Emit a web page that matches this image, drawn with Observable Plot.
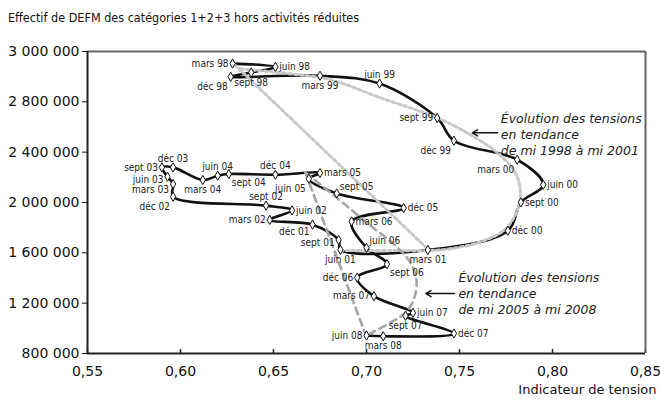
<!DOCTYPE html>
<html><head><meta charset="utf-8">
<script src="https://cdn.jsdelivr.net/npm/d3@7"></script>
<script src="https://cdn.jsdelivr.net/npm/@observablehq/plot@0.6"></script>
<style>
body{margin:0;background:#fff;font-family:"DejaVu Sans Condensed","DejaVu Sans",sans-serif;}
#title{height:30px;box-sizing:border-box;padding-top:11px;padding-left:8px;font-size:12.5px;line-height:14px;color:#111;}
#chart svg{display:block;}
</style></head><body>
<div id="title">Effectif de DEFM des catégories 1+2+3 hors activités réduites</div>
<div id="chart"></div>
<script>
const periods = ["mars 98","juin 98","sept 98","déc 98","mars 99","juin 99","sept 99","déc 99","mars 00","juin 00","sept 00","déc 00","mars 01","juin 01","sept 01","déc 01","mars 02","juin 02","sept 02","déc 02","mars 03","juin 03","sept 03","déc 03","mars 04","juin 04","sept 04","déc 04","mars 05","juin 05","sept 05","déc 05","mars 06","juin 06","sept 06","déc 06","mars 07","juin 07","sept 07","déc 07","mars 08","juin 08"];
const tension = [0.628,0.651,0.638,0.627,0.675,0.707,0.738,0.747,0.781,0.795,0.783,0.776,0.733,0.686,0.685,0.671,0.648,0.660,0.646,0.596,0.596,0.593,0.590,0.596,0.612,0.620,0.626,0.651,0.675,0.669,0.684,0.720,0.692,0.700,0.711,0.695,0.704,0.725,0.721,0.747,0.709,0.700];
const effectif = [3104000,3078000,3033000,2999000,3007000,2945000,2671000,2491000,2340000,2141000,2001000,1776000,1623000,1624000,1702000,1824000,1862000,1937000,1975000,2046000,2147000,2205000,2279000,2279000,2179000,2213000,2226000,2221000,2234000,2189000,2072000,1956000,1850000,1640000,1510000,1403000,1256000,1123000,1099000,959000,937000,943000];
// label placement around each point (layout only)
const labelPos = ["l","r","b","bl","b","t","l","bl","bl","r","r","r","b","b","lm","bh","l","r","t","bl","lb","lm","l","t","b","t","br","t","r","bl","tr","r","r","tr","br","l","l","r","b","r","b","l"];

// trend 1998-2001 (dotted) : chord and arc
const trend98Chord_x = [0.6286,0.7333];
const trend98Chord_y = [3102000,1625000];
const trend98Arc_x = [0.6323,0.6592,0.6807,0.7075,0.7381,0.7559,0.7704,0.7800,0.7827,0.7806,0.7736,0.7601,0.7451,0.7333,0.7129,0.6860];
const trend98Arc_y = [3062000,3022000,2975000,2832000,2673000,2538000,2395000,2237000,2078000,1919000,1776000,1681000,1633000,1618000,1618000,1618000];
// trend 2005-2008 (dashed) : chord and arc
const trend05Chord_x = [0.6672,0.6995];
const trend05Chord_y = [2237000,950000];
const trend05Arc_x = [0.6672,0.6860,0.7021,0.7156,0.7236,0.7269,0.7252,0.7209,0.7129,0.7021];
const trend05Arc_y = [2237000,2014000,1816000,1657000,1522000,1379000,1221000,1125000,1046000,959000];

const xTicks = [0.55,0.60,0.65,0.70,0.75,0.80,0.85];
const yTicks = [800000,1200000,1600000,2000000,2400000,2800000,3200000];
const yTickLabels = ["800 000","1 200 000","1 600 000","2 000 000","2 400 000","2 800 000","3 000 000"];

const annotTexts = ["Évolution des tensions\nen tendance\nde mi 1998 à mi 2001","Évolution des tensions\nen tendance\nde mi 2005 à mi 2008"];
const annotX = [0.7722,0.7494];
const annotY = [2546000,1284000];
const arrowX1 = [0.7704,0.7472], arrowX2 = [0.7569,0.7319], arrowY = [2554000,1276000];

const pts = periods.map((p,i)=>({p, x:tension[i], y:effectif[i], pos:labelPos[i]}));
const zip = (xs,ys)=>xs.map((x,i)=>({x, y:ys[i]}));
const annots = annotTexts.map((t,i)=>({t, x:annotX[i], y:annotY[i]}));
const arrows = arrowX1.map((x1,i)=>({x1, x2:arrowX2[i], y:arrowY[i]}));

const offs = {
  l:{dx:-4,dy:0,a:"end"}, lm:{dx:-4,dy:3,a:"end"}, lb:{dx:-4,dy:6,a:"end"}, r:{dx:4,dy:0,a:"start"},
  t:{dx:0,dy:-9,a:"middle"}, b:{dx:0,dy:10,a:"middle"},
  bl:{dx:-3,dy:10,a:"end"}, bh:{dx:-3,dy:7,a:"end"}, br:{dx:3,dy:9,a:"start"}, tr:{dx:3,dy:-7,a:"start"}
};
const labelMarks = Object.entries(offs).map(([k,o])=>Plot.text(pts.filter(d=>d.pos===k),{
  x:"x", y:"y", text:"p", dx:o.dx, dy:o.dy, textAnchor:o.a, fontSize:10, fill:"#222"
}));

const fmtX = d=>d.toFixed(2).replace(".",",");
const wide = '"DejaVu Sans",sans-serif';

const chart = Plot.plot({
  width:660, height:373,
  marginLeft:87, marginRight:15, marginTop:21, marginBottom:50,
  style:{fontFamily:'"DejaVu Sans Condensed","DejaVu Sans",sans-serif', fontSize:"13px", color:"#111", background:"#fff"},
  x:{domain:[0.55,0.85]},
  y:{domain:[800000,3200000]},
  marks:[
    Plot.axisY({ticks:yTicks, tickFormat:(d)=>yTickLabels[yTicks.indexOf(d)], tickSize:5, tickPadding:3, label:null, fontSize:14, fontFamily:wide}),
    Plot.axisX({ticks:xTicks, tickFormat:fmtX, tickSize:0, tickPadding:13, label:null, fontSize:14, fontFamily:wide}),
    Plot.ruleX(xTicks,{x:d=>d, y1:800000, y2:800000, insetBottom:4, stroke:"#222", strokeWidth:1.5}),
    Plot.ruleY([3200000],{stroke:"#666", strokeWidth:2}),
    Plot.ruleX([0.85],{stroke:"#666", strokeWidth:2}),
    Plot.ruleX([0.55],{stroke:"#222", strokeWidth:2}),
    Plot.ruleY([800000],{stroke:"#222", strokeWidth:2}),
    Plot.line(pts,{x:"x", y:"y", curve:"catmull-rom", stroke:"#111", strokeWidth:2.6}),
    Plot.line(zip(trend98Chord_x,trend98Chord_y),{x:"x",y:"y", stroke:"#c8c8c8", strokeWidth:3, strokeDasharray:"3,3"}),
    Plot.line(zip(trend98Arc_x,trend98Arc_y),{x:"x",y:"y", curve:"catmull-rom", stroke:"#c8c8c8", strokeWidth:3, strokeDasharray:"3,3"}),
    Plot.line(zip(trend05Chord_x,trend05Chord_y),{x:"x",y:"y", stroke:"#a6a6a6", strokeWidth:2.6, strokeDasharray:"7,5"}),
    Plot.line(zip(trend05Arc_x,trend05Arc_y),{x:"x",y:"y", curve:"catmull-rom", stroke:"#a6a6a6", strokeWidth:2.6, strokeDasharray:"7,5"}),
    Plot.dot(pts,{x:"x", y:"y", symbol:"diamond", r:2.8, fill:"white", stroke:"#111", strokeWidth:1}),
    ...labelMarks,
    Plot.text(annots,{x:"x", y:"y", text:"t", textAnchor:"start", lineAnchor:"middle", lineHeight:1.3, fontSize:12.5, fontStyle:"italic", fontFamily:wide, fill:"#222"}),
    Plot.arrow(arrows,{x1:"x1", x2:"x2", y1:"y", y2:"y", stroke:"#111", strokeWidth:1.5, headLength:6}),
    Plot.text(["Indicateur de tension"],{frameAnchor:"bottom-right", dy:40, dx:11, textAnchor:"end", fontSize:13, fontFamily:wide, fill:"#111"})
  ]
});
document.getElementById("chart").appendChild(chart);
</script>
</body></html>
